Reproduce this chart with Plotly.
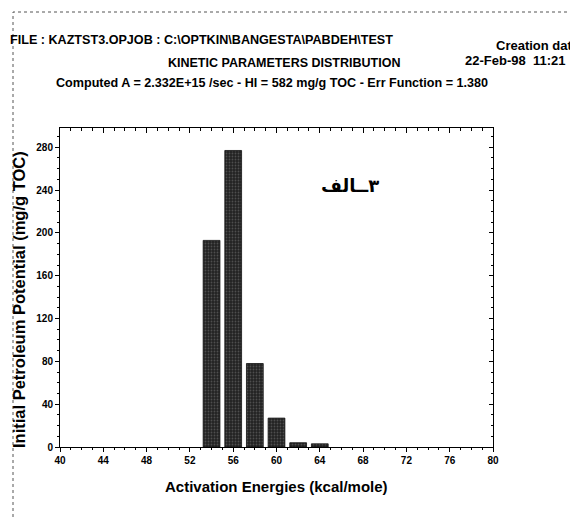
import plotly.graph_objects as go

energies = [54, 56, 58, 60, 62, 64]
potential = [193, 277, 78, 27, 4, 3]

x_ticks = [40, 44, 48, 52, 56, 60, 64, 68, 72, 76, 80]
y_ticks = [0, 40, 80, 120, 160, 200, 240, 280]

FONT = "Liberation Sans, Arial, sans-serif"
W, H = 578, 520
L, R, T, B = 52, 485, 120, 439  # plot area in pixels


def px(x):
    return (x - L) / (R - L)


def py(y):
    return (B - y) / (B - T)


fig = go.Figure()
fig.add_trace(go.Bar(
    x=energies, y=potential, width=1.55,
    marker=dict(color="#2a2a2a", line=dict(color="#111", width=0.8),
                pattern=dict(shape=".", fgcolor="#7a7a7a", bgcolor="#222222", size=3, solidity=0.3)),
    showlegend=False,
))
# invisible trace for mirrored (inside-tick) axes
fig.add_trace(go.Scatter(x=[40], y=[0], xaxis="x2", yaxis="y2", mode="markers",
                         marker=dict(opacity=0), showlegend=False, hoverinfo="skip"))

tfont = dict(family=FONT, size=10, color="black", weight="bold")
axis_common = dict(showgrid=False, zeroline=False, linecolor="black", linewidth=1,
                   tickcolor="black", tickfont=tfont)

fig.update_layout(
    width=W, height=H,
    margin=dict(l=L, r=W - R, t=T, b=H - B, autoexpand=False),
    paper_bgcolor="white", plot_bgcolor="white",
    xaxis=dict(range=[40, 80], tickvals=x_ticks, ticks="outside", ticklen=4,
               minor=dict(ticks="outside", dtick=1, ticklen=2, tickcolor="black"),
               **axis_common),
    yaxis=dict(range=[0, 298], tickvals=y_ticks, ticks="outside", ticklen=4,
               minor=dict(ticks="outside", dtick=10, ticklen=2, tickcolor="black"),
               **axis_common),
    xaxis2=dict(range=[40, 80], overlaying="x", side="top", tickvals=x_ticks,
                ticks="inside", ticklen=5, showticklabels=False,
                minor=dict(ticks="inside", dtick=1, ticklen=3, tickcolor="black"),
                **axis_common),
    yaxis2=dict(range=[0, 298], overlaying="y", side="right", tickvals=y_ticks,
                ticks="inside", ticklen=4, showticklabels=False,
                minor=dict(ticks="inside", dtick=10, ticklen=2, tickcolor="black"),
                **axis_common),
)

# page border (dashed frame)
fig.add_shape(type="rect", xref="paper", yref="paper",
              x0=px(5), x1=px(572), y0=py(540), y1=py(4),
              line=dict(color="#555", width=1, dash="dot"))


def label(text, x, y, size, xanchor="left", family=FONT, angle=0):
    fig.add_annotation(text=text, xref="paper", yref="paper", x=px(x), y=py(y),
                       xanchor=xanchor, yanchor="middle", showarrow=False, textangle=angle,
                       font=dict(family=family, size=size, color="black", weight="bold"))


label("FILE : KAZTST3.OPJOB : C:\\OPTKIN\\BANGESTA\\PABDEH\\TEST", 0, 32, 12.6)
label("Creation dat", 486, 37, 13)
label("22-Feb-98  11:21", 455, 53, 13)
label("KINETIC PARAMETERS DISTRIBUTION", 276, 55, 12.5, "center")
label("Computed A = 2.332E+15 /sec - HI = 582 mg/g TOC - Err Function = 1.380", 264, 75, 12.6, "center")
label("Activation Energies (kcal/mole)", 268, 478, 15, "center")
label("Initial Petroleum Potential (mg/g TOC)", 11, 292, 16.5, "center", angle=-90)

fig.add_annotation(text="\u200f\u0663\u0640\u0640الف", x=66.8, y=244, xref="x", yref="y",
                   showarrow=False,
                   font=dict(family="DejaVu Sans", size=18, color="black", weight="bold"))

fig.write_html("out.html")
